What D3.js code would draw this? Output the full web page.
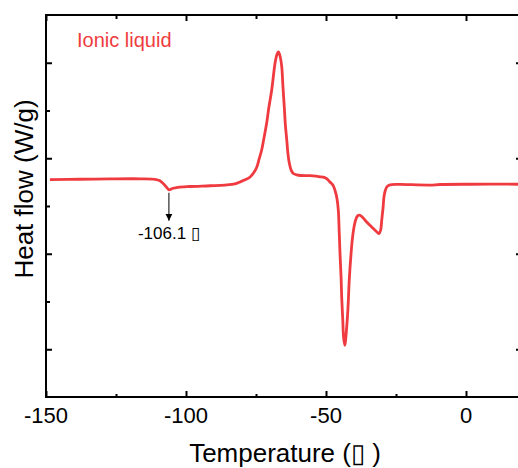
<!DOCTYPE html>
<html>
<head>
<meta charset="utf-8">
<script src="https://cdn.jsdelivr.net/npm/d3@7"></script>
<style>
    body { margin: 0; background: #fff; }
    text { font-family: "Liberation Sans", Arial, sans-serif; }
</style>
</head>
<body>
<div id="chart"></div>
<script>
// DSC trace (temperature in C, heat flow in arbitrary W/g units)
const temperature = [-148.6, -137.9, -127.1, -116.4, -111.1, -109.3, -107.9, -106.8, -106.1, -104.6,
    -102.9, -98.6, -91.4, -86.1, -82.5, -80.7, -78.9, -77.1, -75.7, -74.7,
    -73.9, -73.0, -72.1, -71.2, -70.4, -69.4, -68.2, -67.5, -67.0, -66.4,
    -65.8, -65.4, -64.9, -64.5, -64.0, -63.6, -63.1, -62.5, -61.7, -59.9,
    -55.7, -52.1, -50.0, -48.6, -47.5, -46.8, -46.1, -45.6, -45.3, -45.0,
    -44.6, -44.4, -44.0, -43.75, -43.3, -42.6, -42.1, -41.7, -41.1, -40.5,
    -39.8, -39.0, -38.4, -37.9, -36.8, -35.5, -34.3, -33.1, -32.1, -31.1,
    -30.5, -30.1, -29.6, -29.3, -28.8, -28.3, -27.5, -26.5, -23.6, -12.9,
    -9.3, 1.4, 18.6];
const heatFlow = [-0.223, -0.220, -0.216, -0.215, -0.220, -0.236, -0.272, -0.309, -0.330, -0.314,
    -0.304, -0.296, -0.288, -0.281, -0.269, -0.248, -0.225, -0.196, -0.147, -0.091,
    -0.010, 0.084, 0.220, 0.366, 0.534, 0.712, 0.995, 1.089, 1.113, 1.068,
    0.956, 0.764, 0.537, 0.346, 0.188, 0.052, -0.052, -0.120, -0.160, -0.178,
    -0.183, -0.194, -0.209, -0.248, -0.283, -0.335, -0.419, -0.545, -0.754, -0.995,
    -1.257, -1.452, -1.696, -1.864, -1.958, -1.766, -1.539, -1.277, -1.016, -0.824,
    -0.691, -0.615, -0.597, -0.597, -0.623, -0.667, -0.702, -0.736, -0.764, -0.788,
    -0.754, -0.649, -0.513, -0.405, -0.335, -0.301, -0.283, -0.275, -0.274, -0.281,
    -0.275, -0.272, -0.272];

const xTicks = [-150, -100, -50, 0];
const xMinorTicks = [-125, -75, -25];
const yTicks = [-2, -1, 0, 1];
const yMinorTicks = [-1.5, -0.5, 0.5];

const seriesName = "Ionic liquid";
const glassTemp = -106.1;
const glassLabel = "-106.1 \u25AF";

const data = temperature.map((t, i) => ({ t: t, h: heatFlow[i] }));

const W = 518, H = 468;
const margin = { top: 15, right: -4, bottom: 71, left: 46 };
const red = "#ef3b40";

const svg = d3.select("#chart")
    .append("svg")
    .attr("width", W)
    .attr("height", H);

const x = d3.scaleLinear()
    .domain([-150, 20])
    .range([margin.left, W - margin.right]);

const y = d3.scaleLinear()
    .domain([-2.5, 1.5])
    .range([H - margin.bottom, margin.top]);

// tick marks on all four sides, pointing inward
function tickAxis(axisFn, scale, ticks, size, transform) {
    svg.append("g")
        .attr("transform", transform)
        .call(axisFn(scale).tickValues(ticks).tickSize(-size).tickFormat(""))
        .call(g => g.select(".domain").remove())
        .call(g => g.selectAll("line").attr("stroke", "#000").attr("stroke-width", 2));
}

const bottomY = H - margin.bottom, rightX = W - margin.right;
tickAxis(d3.axisBottom, x, xTicks, 6, `translate(0,${bottomY})`);
tickAxis(d3.axisBottom, x, xMinorTicks, 3, `translate(0,${bottomY})`);
tickAxis(d3.axisTop, x, xTicks, 6, `translate(0,${margin.top})`);
tickAxis(d3.axisTop, x, xMinorTicks, 4, `translate(0,${margin.top})`);
tickAxis(d3.axisLeft, y, yTicks, 6, `translate(${margin.left},0)`);
tickAxis(d3.axisLeft, y, yMinorTicks, 4, `translate(${margin.left},0)`);
tickAxis(d3.axisRight, y, yTicks, 6, `translate(${rightX},0)`);
tickAxis(d3.axisRight, y, yMinorTicks, 4, `translate(${rightX},0)`);

// frame
svg.append("rect")
    .attr("x", margin.left)
    .attr("y", margin.top)
    .attr("width", rightX - margin.left)
    .attr("height", bottomY - margin.top)
    .attr("fill", "none")
    .attr("stroke", "#000")
    .attr("stroke-width", 2);

// x tick labels
svg.append("g")
    .selectAll("text")
    .data(xTicks)
    .join("text")
    .attr("x", d => x(d))
    .attr("y", bottomY + 26)
    .attr("text-anchor", "middle")
    .style("font-size", "22px")
    .text(d => d);

// axis titles
svg.append("text")
    .attr("x", 285)
    .attr("y", 462)
    .attr("text-anchor", "middle")
    .style("font-size", "26px")
    .text("Temperature (\u25AF )");

svg.append("text")
    .attr("transform", "translate(33,189) rotate(-90)")
    .attr("text-anchor", "middle")
    .style("font-size", "26px")
    .text("Heat flow (W/g)");

// the curve
const line = d3.line()
    .x(d => x(d.t))
    .y(d => y(d.h))
    .curve(d3.curveCatmullRom.alpha(0.5));

svg.append("path")
    .datum(data)
    .attr("d", line)
    .attr("fill", "none")
    .attr("stroke", red)
    .attr("stroke-width", 2.8)
    .attr("stroke-linejoin", "round");

// legend text
svg.append("text")
    .attr("x", 77)
    .attr("y", 47)
    .attr("fill", red)
    .style("font-size", "20px")
    .text(seriesName);

// glass transition annotation
const gx = x(glassTemp), gy = y(d3.min(data.filter(d => d.t < -90), d => d.h));
svg.append("defs").append("marker")
    .attr("id", "arrow")
    .attr("viewBox", "0 0 10 10")
    .attr("refX", 10).attr("refY", 5)
    .attr("markerWidth", 7).attr("markerHeight", 9)
    .attr("markerUnits", "userSpaceOnUse")
    .attr("orient", "auto")
    .append("path")
    .attr("d", "M0,0 L10,5 L0,10 Z")
    .attr("fill", "#000");

svg.append("line")
    .attr("x1", gx).attr("y1", gy + 3)
    .attr("x2", gx).attr("y2", gy + 31)
    .attr("stroke", "#000")
    .attr("stroke-width", 1)
    .attr("marker-end", "url(#arrow)");

svg.append("text")
    .attr("x", gx)
    .attr("y", gy + 49)
    .attr("text-anchor", "middle")
    .style("font-size", "17px")
    .text(glassLabel);
</script>
</body>
</html>
